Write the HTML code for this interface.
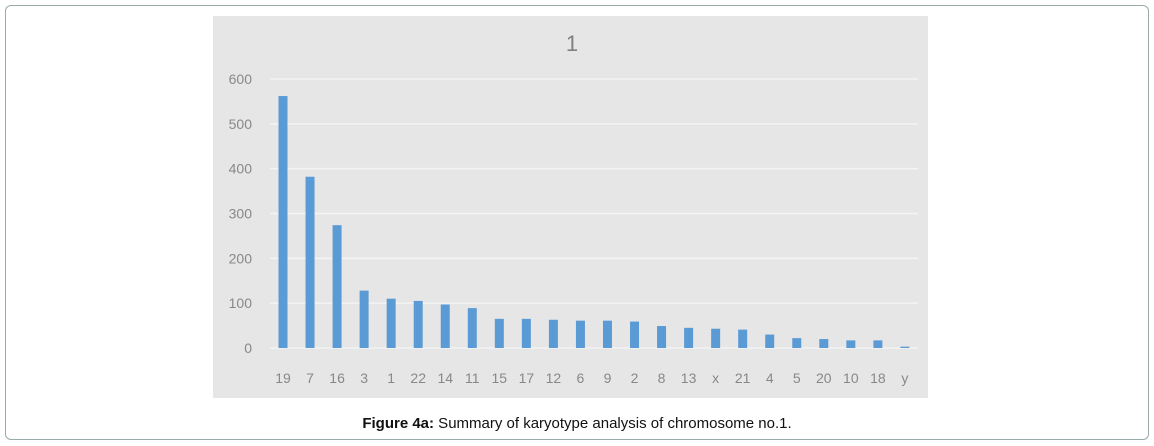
<!DOCTYPE html>
<html><head><meta charset="utf-8"><style>
body{margin:0;background:#fff;width:1154px;height:446px;overflow:hidden;font-family:"Liberation Sans",sans-serif}
#frame{position:absolute;left:5px;top:5px;width:1142px;height:433px;border:1px solid #9aa;border-radius:6px}
#cap{position:absolute;left:0;width:1154px;top:415px;text-align:center;font-size:15px;color:#111}
</style></head><body>
<div id="frame"></div>
<svg id="chart" width="1154" height="446" style="position:absolute;left:0;top:0">
<rect x="213" y="16" width="715" height="382" fill="#e6e6e6"/>
<text x="572" y="51" font-size="22" fill="#808080" text-anchor="middle" font-family="Liberation Sans">1</text>
<g id="grid"></g><g id="bars"></g><g id="labels"></g>
</svg>
<div id="cap"><b>Figure 4a:</b> Summary of karyotype analysis of chromosome no.1.</div>
<script>
const categories=["19","7","16","3","1","22","14","11","15","17","12","6","9","2","8","13","x","21","4","5","20","10","18","y"];
const values=[562,382,274,128,110,105,97,89,65,65,63,61,61,59,49,45,43,41,30,22,20,17,17,3];
const yTicks=[0,100,200,300,400,500,600];
const NS="http://www.w3.org/2000/svg";
const y0=348,ymax=600,ypx=269,x0=283,step=27.04,bw=9;
const yS=v=>y0-v/ymax*ypx;
const xS=i=>x0+i*step;
const grid=document.getElementById('grid'),bars=document.getElementById('bars'),labels=document.getElementById('labels');
function mk(t,a){const e=document.createElementNS(NS,t);for(const k in a)e.setAttribute(k,a[k]);return e;}
yTicks.forEach(t=>{
  const l=mk('line',{x1:270,x2:918,y1:yS(t),y2:yS(t),stroke:'#f4f4f4','stroke-width':1.5});
  
  
  grid.appendChild(l);
  const tx=mk('text',{x:252,y:yS(t)+5,'font-size':14,fill:'#888','text-anchor':'end','font-family':'Liberation Sans'});
  tx.textContent=t;
  
  
  labels.appendChild(tx);
});
categories.forEach((c,i)=>{
  const r=mk('rect',{x:xS(i)-bw/2,y:yS(values[i]),width:bw,height:y0-yS(values[i]),fill:'#5b9bd5'});
  
  
  bars.appendChild(r);
  const tx=mk('text',{x:xS(i),y:383,'font-size':14,fill:'#888','text-anchor':'middle','font-family':'Liberation Sans'});
  tx.textContent=c;
  
  
  labels.appendChild(tx);
});
</script>
</body></html>
